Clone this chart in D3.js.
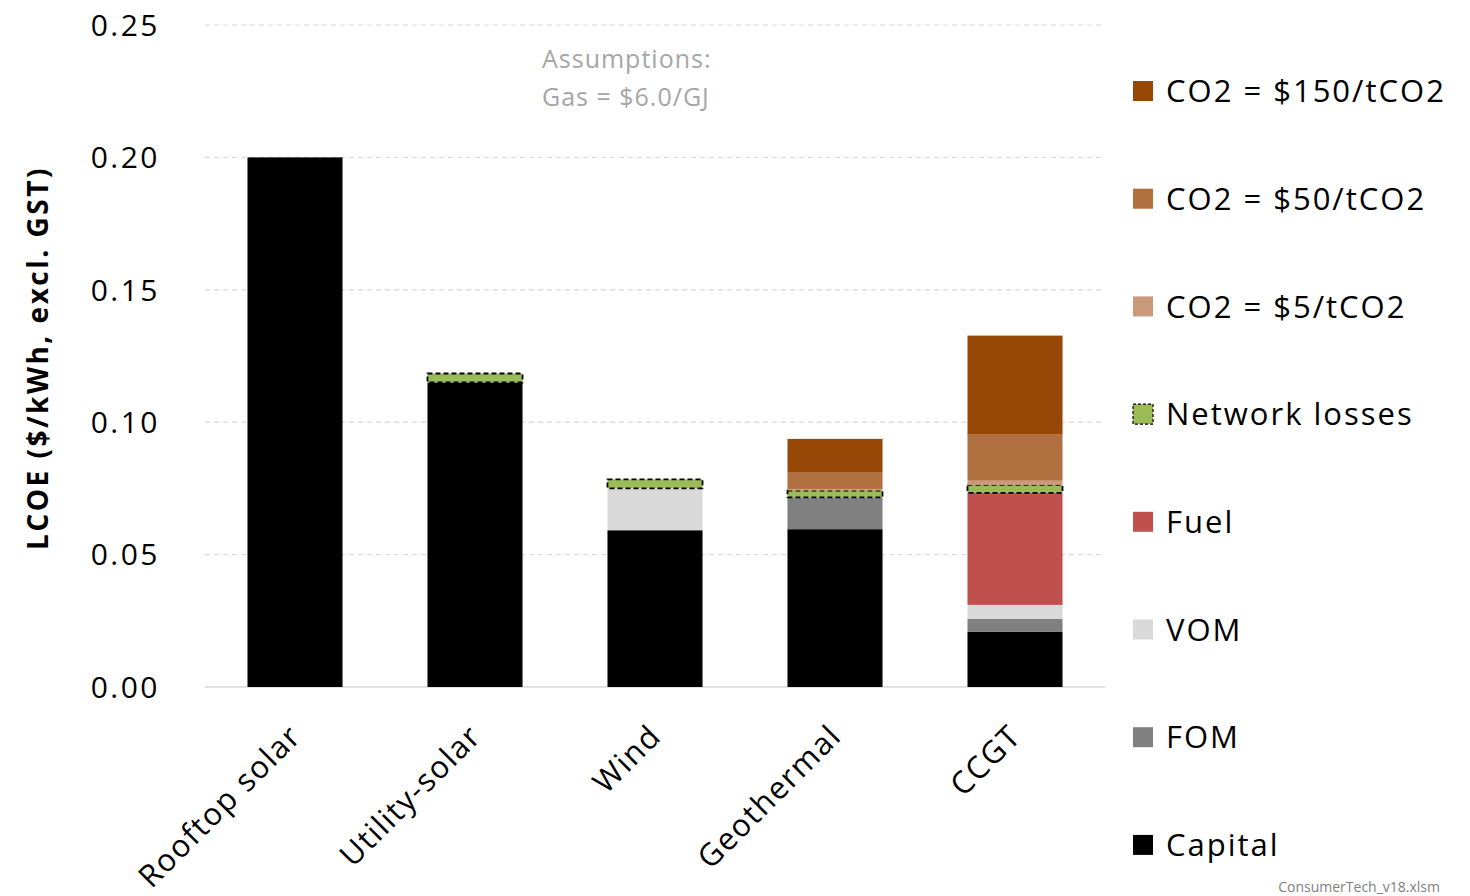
<!DOCTYPE html>
<html><head><meta charset="utf-8">
<script src="https://cdn.jsdelivr.net/npm/d3@7"></script>
<style>body{margin:0;background:#fff}svg{display:block}text{font-family:"Open Sans","Liberation Sans",sans-serif}</style>
</head><body><svg id="c" width="1470" height="896"></svg>
<script>
const categories = ["Rooftop solar","Utility-solar","Wind","Geothermal","CCGT"];
const seriesNames = ["Capital","FOM","VOM","Fuel","Network losses","CO2 = $5/tCO2","CO2 = $50/tCO2","CO2 = $150/tCO2"];
const capital  = [0.200, 0.115, 0.0592, 0.0596, 0.0208];
const fom      = [0, 0, 0, 0.0120, 0.0049];
const vom      = [0, 0, 0.0158, 0, 0.0053];
const fuel     = [0, 0, 0, 0, 0.0423];
const network  = [0, 0.0034, 0.0034, 0.0026, 0.0030];
const co2_5    = [0, 0, 0, 0.0006, 0.0016];
const co2_50   = [0, 0, 0, 0.0064, 0.0174];
const co2_150  = [0, 0, 0, 0.0125, 0.0374];
const yTicks = [0, 0.05, 0.10, 0.15, 0.20, 0.25];
const colors = ["#000000","#808080","#D9D9D9","#C0504D","#9BBB59","#C9997A","#B1703F","#974706"];
const legendOrder = [7,6,5,4,3,2,1,0];

const svg = d3.select("#c");
const m = {l:205, r:1105, t:25, b:687};
const x = d3.scaleBand().domain(categories).range([m.l, m.r]).paddingInner(0.472).paddingOuter(0.236);
const y = d3.scaleLinear().domain([0,0.25]).range([m.b, m.t]);

// gridlines
svg.append("g").selectAll("line").data(yTicks.filter(d=>d>0)).join("line")
  .attr("x1", m.l).attr("x2", m.r).attr("y1", d=>y(d)).attr("y2", d=>y(d))
  .attr("stroke","#D9D9D9").attr("stroke-width",1.2).attr("stroke-dasharray","5,4");
svg.append("line").attr("x1",m.l).attr("x2",m.r).attr("y1",y(0)).attr("y2",y(0)).attr("stroke","#D9D9D9").attr("stroke-width",1.5);

// y tick labels
svg.append("g").selectAll("text").data(yTicks).join("text")
  .attr("x", 160).attr("y", d=>y(d)).attr("dy","0.36em").attr("text-anchor","end")
  .attr("font-size",30).attr("letter-spacing",2.5).attr("fill","#000").text(d=>d3.format(".2f")(d));

// stacked data
const rows = categories.map((c,i)=>{
  const o = {cat:c};
  [capital,fom,vom,fuel,network,co2_5,co2_50,co2_150].forEach((arr,k)=>o[seriesNames[k]]=arr[i]);
  return o;
});
const stack = d3.stack().keys(seriesNames)(rows);
stack.forEach((layer,k)=>{
  const g = svg.append("g");
  const isNet = seriesNames[k]==="Network losses";
  g.selectAll("rect").data(layer.filter(d=>d[1]-d[0]>0)).join("rect")
    .attr("x", d=>x(d.data.cat)).attr("width", x.bandwidth())
    .attr("y", d=>y(d[1])).attr("height", d=>y(d[0])-y(d[1]))
    .attr("fill", colors[k])
    .attr("stroke", isNet ? "#000" : "none")
    .attr("stroke-width", isNet ? 1.8 : 0)
    .attr("stroke-dasharray", isNet ? "5,3" : null);
});

// x labels
svg.append("g").selectAll("text").data(categories).join("text")
  .attr("transform", d=>`translate(${x(d)+x.bandwidth()/2+8},${738}) rotate(-45)`)
  .attr("text-anchor","end").attr("font-size",31).attr("letter-spacing",1.5).attr("fill","#000").text(d=>d);

// y title
svg.append("text").attr("transform","translate(48,358) rotate(-90)")
  .attr("text-anchor","middle").attr("font-size",28).attr("letter-spacing",2.5).attr("font-weight","bold").attr("fill","#000")
  .text("LCOE ($/kWh, excl. GST)");

// annotation
svg.append("text").attr("x",542).attr("y",68).attr("font-size",25).attr("letter-spacing",1).attr("fill","#A6A6A6").text("Assumptions:");
svg.append("text").attr("x",542).attr("y",106).attr("font-size",25).attr("letter-spacing",1).attr("fill","#A6A6A6").text("Gas = $6.0/GJ");

// legend
const lg = svg.append("g").selectAll("g").data(legendOrder).join("g")
  .attr("transform",(d,i)=>`translate(1133,${91 + i*107.7})`);
lg.append("rect").attr("x",0).attr("y",-10).attr("width",20).attr("height",20)
  .attr("fill", d=>colors[d])
  .attr("stroke", d=>seriesNames[d]==="Network losses" ? "#000" : "none")
  .attr("stroke-width",1.2).attr("stroke-dasharray","3,2");
lg.append("text").attr("x",33).attr("y",0).attr("dy","0.36em").attr("font-size",31).attr("letter-spacing",2).attr("fill","#000")
  .text(d=>seriesNames[d]);

// footer
svg.append("text").attr("x",1440).attr("y",892).attr("text-anchor","end").attr("font-size",14).attr("fill","#7F7F7F").text("ConsumerTech_v18.xlsm");
</script></body></html>
